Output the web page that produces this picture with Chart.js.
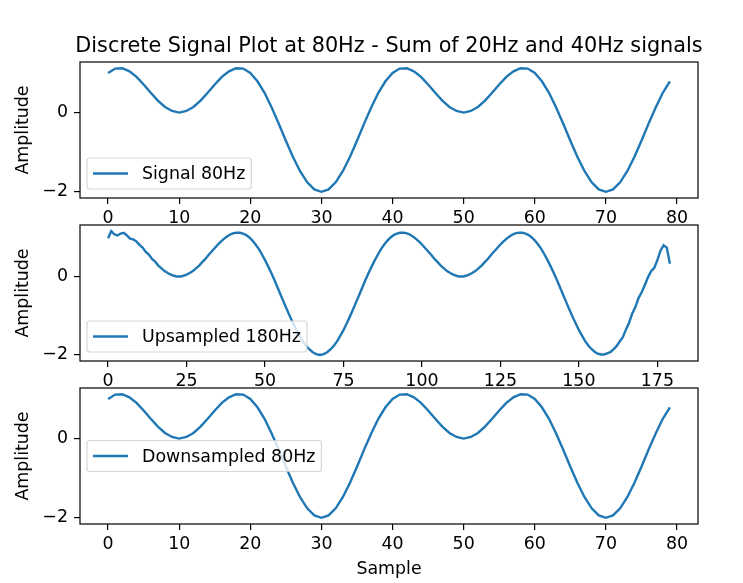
<!DOCTYPE html>
<html>
<head>
<meta charset="utf-8">
<script src="https://cdn.jsdelivr.net/npm/chart.js@4.4.1/dist/chart.umd.min.js"></script>
<style>
  body { margin: 0; background: #fff; overflow: hidden; }
  #wrap { position: relative; width: 743px; height: 583px; }
  #wrap canvas { position: absolute; left: 0; top: 0; }
  #title { position: absolute; left: 39px; width: 700px; top: 33px; text-align: center;
           font: 20.8px "DejaVu Sans"; white-space: nowrap; color: #000; }
</style>
</head>
<body>
<div id="wrap">
  <canvas id="c1" width="743" height="583"></canvas>
  <canvas id="c2" width="743" height="583"></canvas>
  <canvas id="c3" width="743" height="583"></canvas>
  <div id="title">Discrete Signal Plot at 80Hz - Sum of 20Hz and 40Hz signals</div>
</div>
<script>
// values
const signal80 = [
  1.00, 1.11, 1.12, 1.04, 0.90, 0.71, 0.50, 0.30, 0.14, 0.04,
  0.00, 0.04, 0.14, 0.30, 0.50, 0.71, 0.90, 1.04, 1.12, 1.11,
  1.00, 0.79, 0.50, 0.13, -0.28, -0.71, -1.12, -1.48, -1.76, -1.94,
  -2.00, -1.94, -1.76, -1.48, -1.12, -0.71, -0.28, 0.13, 0.50, 0.79,
  1.00, 1.11, 1.12, 1.04, 0.90, 0.71, 0.50, 0.30, 0.14, 0.04,
  0.00, 0.04, 0.14, 0.30, 0.50, 0.71, 0.90, 1.04, 1.12, 1.11,
  1.00, 0.79, 0.50, 0.13, -0.28, -0.71, -1.12, -1.48, -1.76, -1.94,
  -2.00, -1.94, -1.76, -1.48, -1.12, -0.71, -0.28, 0.13, 0.50, 0.79
];

const upsampled180 = [
  0.98, 1.16, 1.08, 1.05, 1.10, 1.12, 1.05, 0.97, 0.95, 0.90,
  0.81, 0.74, 0.63, 0.56, 0.45, 0.38, 0.28, 0.21, 0.14, 0.09,
  0.05, 0.02, 0.00, 0.00, 0.02, 0.05, 0.09, 0.14, 0.21, 0.28,
  0.37, 0.45, 0.55, 0.64, 0.73, 0.82, 0.90, 0.97, 1.03, 1.08,
  1.11, 1.12, 1.12, 1.10, 1.06, 1.00, 0.92, 0.82, 0.71, 0.57,
  0.42, 0.26, 0.09, -0.09, -0.28, -0.47, -0.66, -0.85, -1.03, -1.20,
  -1.37, -1.51, -1.65, -1.76, -1.85, -1.92, -1.97, -2.00, -2.00, -1.97,
  -1.92, -1.85, -1.76, -1.65, -1.51, -1.37, -1.20, -1.03, -0.85, -0.66,
  -0.47, -0.28, -0.09, 0.09, 0.26, 0.42, 0.57, 0.71, 0.82, 0.92,
  1.00, 1.06, 1.10, 1.12, 1.12, 1.11, 1.08, 1.03, 0.97, 0.90,
  0.82, 0.73, 0.64, 0.55, 0.45, 0.37, 0.28, 0.21, 0.14, 0.09,
  0.05, 0.02, 0.00, 0.00, 0.02, 0.05, 0.09, 0.14, 0.21, 0.28,
  0.37, 0.45, 0.55, 0.64, 0.73, 0.82, 0.90, 0.97, 1.03, 1.08,
  1.11, 1.12, 1.12, 1.10, 1.06, 1.00, 0.92, 0.82, 0.71, 0.57,
  0.42, 0.26, 0.09, -0.09, -0.28, -0.47, -0.66, -0.85, -1.03, -1.20,
  -1.37, -1.51, -1.65, -1.76, -1.85, -1.92, -1.97, -1.99, -1.99, -1.96,
  -1.93, -1.86, -1.78, -1.66, -1.55, -1.35, -1.18, -0.94, -0.78, -0.55,
  -0.40, -0.22, -0.02, 0.14, 0.22, 0.42, 0.66, 0.80, 0.74, 0.33
];

const downsampled80 = [
  1.00, 1.11, 1.12, 1.04, 0.90, 0.71, 0.50, 0.30, 0.14, 0.04,
  0.00, 0.04, 0.14, 0.30, 0.50, 0.71, 0.90, 1.04, 1.12, 1.11,
  1.00, 0.79, 0.50, 0.13, -0.28, -0.71, -1.12, -1.48, -1.76, -1.94,
  -2.00, -1.94, -1.76, -1.48, -1.12, -0.71, -0.28, 0.13, 0.50, 0.79,
  1.00, 1.11, 1.12, 1.04, 0.90, 0.71, 0.50, 0.30, 0.14, 0.04,
  0.00, 0.04, 0.14, 0.30, 0.50, 0.71, 0.90, 1.04, 1.12, 1.11,
  1.00, 0.79, 0.50, 0.13, -0.28, -0.71, -1.12, -1.48, -1.76, -1.94,
  -2.00, -1.94, -1.76, -1.48, -1.12, -0.71, -0.28, 0.13, 0.50, 0.79
];

const ticks80 = [0, 10, 20, 30, 40, 50, 60, 70, 80];
const ticks180 = [0, 25, 50, 75, 100, 125, 150, 175];
const yTicks = [-2, 0];

const FONT = 'DejaVu Sans';
const BLUE = '#1f77b4';

// frame around the axes + matplotlib style legend
const boxPlugin = {
  id: 'box',
  afterDraw(chart, args, opts) {
    const { ctx, chartArea: a } = chart;
    ctx.save();
    ctx.strokeStyle = '#000';
    ctx.lineWidth = 1.2;
    ctx.strokeRect(a.left, a.top, a.right - a.left, a.bottom - a.top);

    const label = chart.data.datasets[0].label;
    ctx.font = '17.4px "' + FONT + '"';
    const tw = ctx.measureText(label).width;
    const w = 6 + 35 + 14 + tw + 6;
    const h = 31;
    const x = a.left + 7;
    const y = opts.loc === 'center' ? (a.top + a.bottom) / 2 - h / 2 : a.bottom - 9 - h;
    ctx.beginPath();
    ctx.roundRect(x, y, w, h, 3);
    ctx.fillStyle = 'rgba(255,255,255,0.8)';
    ctx.fill();
    ctx.strokeStyle = 'rgba(204,204,204,0.8)';
    ctx.lineWidth = 1.2;
    ctx.stroke();
    ctx.beginPath();
    ctx.moveTo(x + 6, y + h / 2);
    ctx.lineTo(x + 41, y + h / 2);
    ctx.strokeStyle = BLUE;
    ctx.lineWidth = 2.4;
    ctx.stroke();
    ctx.fillStyle = '#000';
    ctx.textBaseline = 'middle';
    ctx.fillText(label, x + 55, y + h / 2 + 1);
    ctx.restore();
  }
};

function minus(v) {
  return String(v).replace('-', '\u2212');
}

function makeChart(id, label, values, cfg) {
  const lo = Math.min(...values), hi = Math.max(...values);
  const pad = (hi - lo) * 0.05;
  const n = values.length - 1;
  const tickGrid = { drawOnChartArea: false, drawTicks: true, tickLength: 6, tickColor: '#000', lineWidth: 1.2 };

  new Chart(document.getElementById(id), {
    type: 'line',
    data: {
      datasets: [{
        label: label,
        data: values.map((v, i) => ({ x: i, y: v })),
        borderColor: BLUE,
        borderWidth: 2.4,
        pointRadius: 0,
        tension: 0,
        fill: false
      }]
    },
    options: {
      responsive: false,
      animation: false,
      events: [],
      layout: { padding: { top: cfg.top, right: 45, bottom: 583 - cfg.bottom - cfg.xh, left: 0 } },
      plugins: {
        legend: { display: false },
        tooltip: { enabled: false },
        box: { loc: cfg.loc }
      },
      scales: {
        x: {
          type: 'linear',
          min: -n * 0.05,
          max: n * 1.05,
          afterBuildTicks: s => { s.ticks = cfg.xTicks.map(v => ({ value: v })); },
          afterFit: s => { s.height = cfg.xh; },
          grid: tickGrid,
          border: { display: false },
          ticks: { color: '#000', font: { family: FONT, size: 17.4 }, padding: 4, maxRotation: 0, autoSkip: false,
                   callback: v => minus(v) },
          title: { display: !!cfg.xTitle, text: cfg.xTitle || '', color: '#000',
                   font: { family: FONT, size: 17.4 }, padding: { top: 0, bottom: 3 } }
        },
        y: {
          min: lo - pad,
          max: hi + pad,
          afterBuildTicks: s => { s.ticks = yTicks.map(v => ({ value: v })); },
          afterFit: s => { s.width = 80; },
          grid: tickGrid,
          border: { display: false },
          ticks: { color: '#000', font: { family: FONT, size: 17.4 }, padding: 6,
                   callback: v => minus(v) },
          title: { display: true, text: 'Amplitude', color: '#000',
                   font: { family: FONT, size: 17.4 }, padding: { top: 13, bottom: 0 } }
        }
      }
    },
    plugins: [boxPlugin]
  });
}

makeChart('c1', 'Signal 80Hz', signal80, { top: 62, bottom: 198, xh: 27, xTicks: ticks80, loc: 'lower' });
makeChart('c2', 'Upsampled 180Hz', upsampled180, { top: 225, bottom: 361, xh: 26, xTicks: ticks180, loc: 'lower' });
makeChart('c3', 'Downsampled 80Hz', downsampled80, { top: 388, bottom: 524, xh: 59, xTicks: ticks80, loc: 'center', xTitle: 'Sample' });
</script>
</body>
</html>
